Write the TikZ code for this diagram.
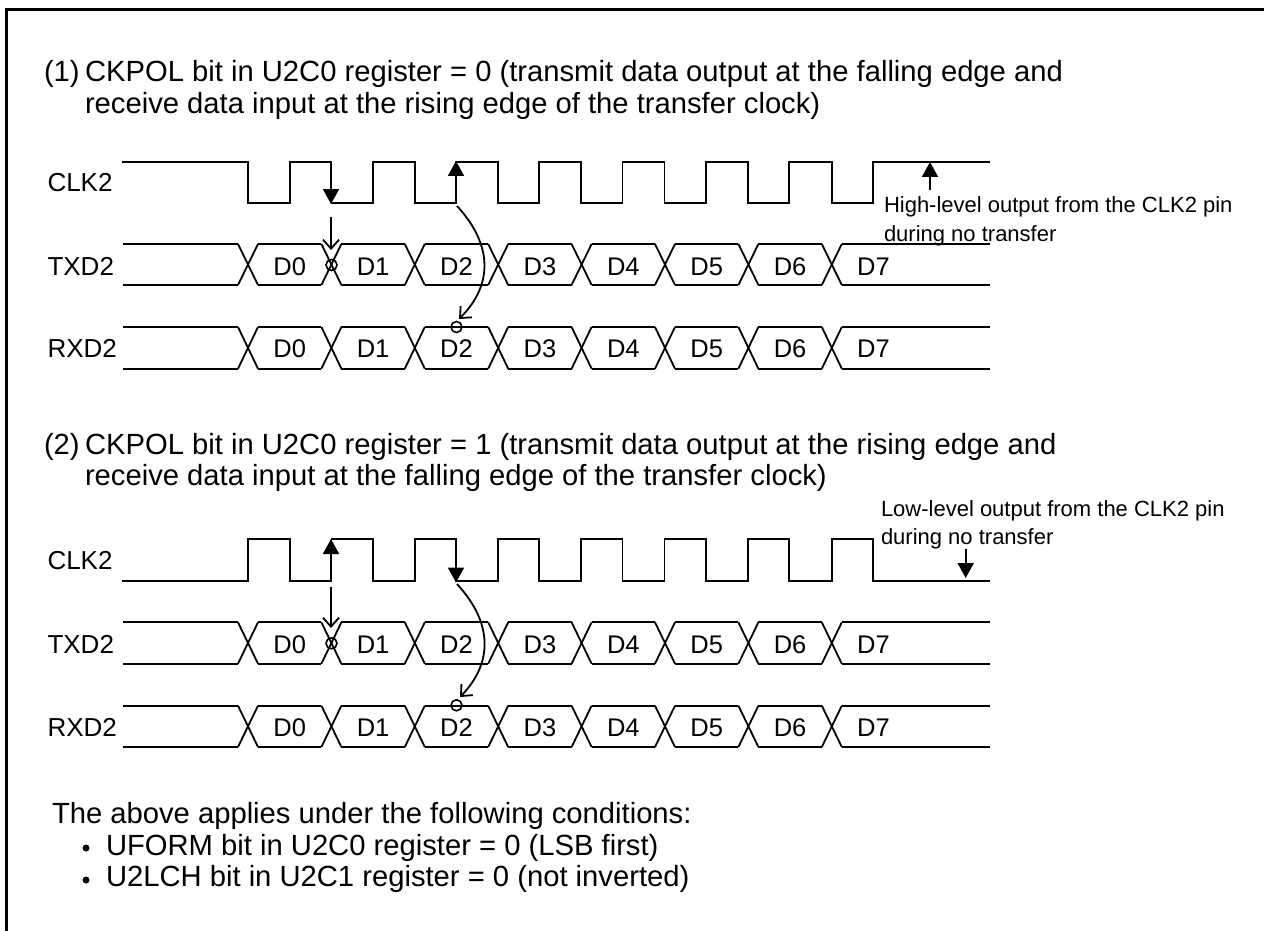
\documentclass[tikz,border=0pt]{standalone}
\usepackage{fontspec}
\setmainfont{Liberation Sans}
\usetikzlibrary{arrows.meta}
\tikzset{
  x=1pt,y=-1pt,
  wave/.style={draw,line width=1.8pt,line join=miter},
  frameline/.style={draw,line width=3pt},
  txt/.style={inner sep=0pt,outer sep=0pt,anchor=base west,font=\fontsize{29.2}{29.2}\selectfont},
  sig/.style={inner sep=0pt,outer sep=0pt,anchor=base,font=\fontsize{25.5}{25.5}\selectfont},
  lab/.style={inner sep=0pt,outer sep=0pt,anchor=base west,font=\fontsize{26}{26}\selectfont},
  note/.style={inner sep=0pt,outer sep=0pt,anchor=base west,font=\fontsize{22}{22}\selectfont},
  bold arrow/.style={draw,line width=1.8pt,-{Triangle[length=15pt,width=16pt]}},
  open arrow/.style={draw,line width=1.8pt,-{Straight Barb[length=9pt,width=16pt,line width=1.8pt]}},
  ring/.style={draw,circle,line width=1.6pt,minimum size=11pt,inner sep=0pt}
}
\newcommand{\busrow}[5]{% name, top y, bottom y, label, label baseline
  \foreach \k in {0,...,7}{
    \pgfmathsetmacro{\c}{248+83.4*\k}
    \draw[wave] (\c-10,#2) -- (\c+10,#3);
    \draw[wave] (\c-10,#3) -- (\c+10,#2);
    \ifnum\k<7
      \pgfmathsetmacro{\d}{\c+73.4}
      \draw[wave] (\c+10,#2) -- (\d,#2);
      \draw[wave] (\c+10,#3) -- (\d,#3);
    \fi
    \pgfmathsetmacro{\m}{\c+41.7}
    \node[sig] (#1d\k) at (\m,#5) {D\k};
  }
  \draw[wave] (123,#2) -- (238,#2);
  \draw[wave] (123,#3) -- (238,#3);
  \draw[wave] (842,#2) -- (990,#2);
  \draw[wave] (842,#3) -- (990,#3);
  \node[lab] (#1lab) at (47.5,#5) {#4};
}
\begin{document}
\begin{tikzpicture}
\useasboundingbox (0,0) rectangle (1264,931);
% frame: top and left edges only
\draw[frameline] (6.5,931) -- (6.5,9.5) -- (1264,9.5);

% section 1
\node[txt] (h1a) at (44,81.7) {(1)};
\node[txt] (h1b) at (85,81.7) {CKPOL bit in U2C0 register = 0 (transmit data output at the falling edge and};
\node[txt] (h1c) at (85,113.3) {receive data input at the rising edge of the transfer clock)};
\node[lab] (clka) at (47.5,191.5) {CLK2};
\draw[wave] (122,161.7) -- (248,161.7) -- (248,202.7) -- (290,202.7) -- (290,161.7) -- (331.5,161.7) -- (331.5,202.7) -- (373,202.7) -- (373,161.7) -- (415,161.7) -- (415,202.7) -- (456,202.7) -- (456,161.7) -- (498,161.7) -- (498,202.7) -- (539,202.7) -- (539,161.7) -- (581,161.7) -- (581,202.7) -- (622.5,202.7) -- (622.5,161.7) -- (664.5,161.7) -- (664.5,202.7) -- (706,202.7) -- (706,161.7) -- (748,161.7) -- (748,202.7) -- (789,202.7) -- (789,161.7) -- (832,161.7) -- (832,202.7) -- (873,202.7) -- (873,161.7) -- (990,161.7);
\coordinate (a1s) at (331,162); \coordinate (a1e) at (331,204);
\draw[bold arrow] (a1s) -- (a1e);
\coordinate (a2s) at (456,203); \coordinate (a2e) at (456,161);
\draw[bold arrow] (a2s) -- (a2e);
\coordinate (a3s) at (930,190); \coordinate (a3e) at (930,162);
\draw[bold arrow] (a3s) -- (a3e);
\node[note] (n1a) at (884,212) {High-level output from the CLK2 pin};
\node[note] (n1b) at (884,241) {during no transfer};
\busrow{ta}{244}{285}{TXD2}{275}
\busrow{ra}{327}{368.7}{RXD2}{357.5}
\node[ring] (r1) at (331.5,265) {};
\node[ring] (r2) at (456.5,327) {};
\coordinate (t1) at (331,217);
\coordinate (t1e) at (331,250);
\draw[open arrow] (t1) -- (t1e);
\coordinate (c1) at (457,206);
\coordinate (c1e) at (459,319);
\draw[open arrow] (c1) .. controls (493,245) and (493,285) .. (c1e);

% section 2
\node[txt] (h2a) at (44,454) {(2)};
\node[txt] (h2b) at (85,454) {CKPOL bit in U2C0 register = 1 (transmit data output at the rising edge and};
\node[txt] (h2c) at (85,485.5) {receive data input at the falling edge of the transfer clock)};
\node[lab] (clkb) at (47.5,569.3) {CLK2};
\draw[wave] (122,580.7) -- (248,580.7) -- (248,539.3) -- (290,539.3) -- (290,580.7) -- (331.5,580.7) -- (331.5,539.3) -- (373,539.3) -- (373,580.7) -- (415,580.7) -- (415,539.3) -- (456,539.3) -- (456,580.7) -- (498,580.7) -- (498,539.3) -- (539,539.3) -- (539,580.7) -- (581,580.7) -- (581,539.3) -- (622.5,539.3) -- (622.5,580.7) -- (664.5,580.7) -- (664.5,539.3) -- (706,539.3) -- (706,580.7) -- (748,580.7) -- (748,539.3) -- (789,539.3) -- (789,580.7) -- (832,580.7) -- (832,539.3) -- (873,539.3) -- (873,580.7) -- (990,580.7);
\coordinate (b1s) at (331,581); \coordinate (b1e) at (331,539);
\draw[bold arrow] (b1s) -- (b1e);
\coordinate (b2s) at (456,540); \coordinate (b2e) at (456,582.5);
\draw[bold arrow] (b2s) -- (b2e);
\coordinate (b3s) at (965.7,549); \coordinate (b3e) at (965.7,578);
\draw[bold arrow] (b3s) -- (b3e);
\node[note] (n2a) at (881,516) {Low-level output from the CLK2 pin};
\node[note] (n2b) at (881,544) {during no transfer};
\busrow{tb}{622.3}{663.7}{TXD2}{653.3}
\busrow{rb}{705.7}{747}{RXD2}{736.7}
\node[ring] (r3) at (331.5,643.3) {};
\node[ring] (r4) at (456.5,705.3) {};
\coordinate (t2) at (331,587);
\coordinate (t2e) at (331,628);
\draw[open arrow] (t2) -- (t2e);
\coordinate (c2) at (457,584);
\coordinate (c2e) at (460,697);
\draw[open arrow] (c2) .. controls (493,623) and (493,663) .. (c2e);

% conditions
\node[txt] (c0) at (52,823) {The above applies under the following conditions:};
\node[txt] (c1a) at (106,855) {UFORM bit in U2C0 register = 0 (LSB first)};
\node[txt] (c2a) at (106,886) {U2LCH bit in U2C1 register = 0 (not inverted)};
\fill (86,848) circle (3.5pt);
\fill (86,880) circle (3.5pt);
\end{tikzpicture}
\end{document}
